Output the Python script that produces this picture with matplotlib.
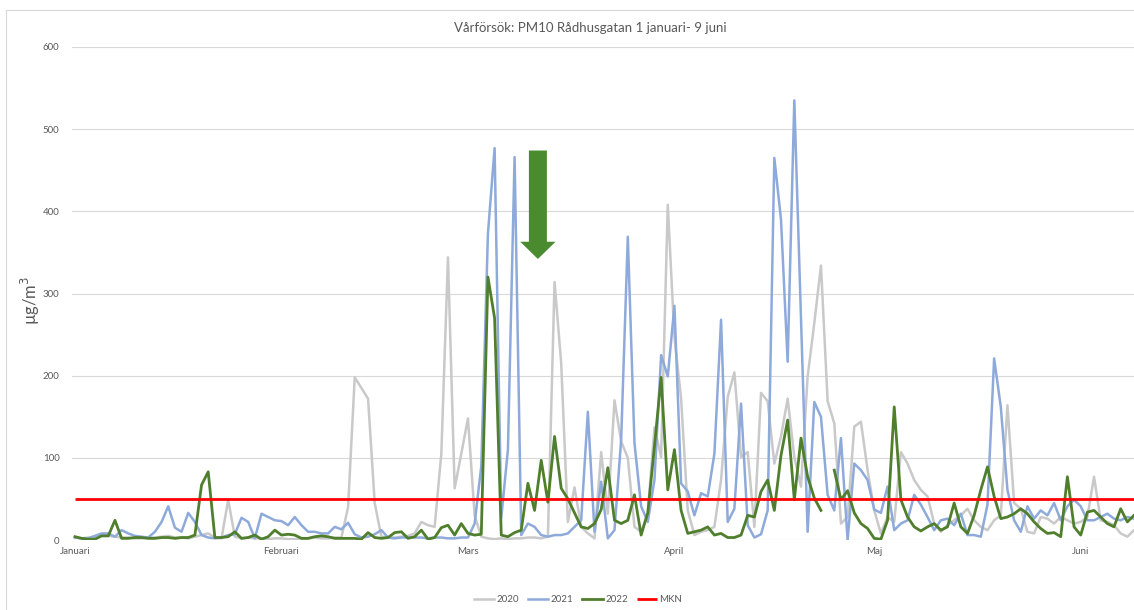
import numpy as np
import matplotlib.pyplot as plt
from matplotlib.patches import FancyArrow, Rectangle

plt.rcParams["font.family"] = ["Lato", "DejaVu Sans"]

title = "Vårförsök: PM10 Rådhusgatan 1 januari- 9 juni"
month_labels = ["Januari", "Februari", "Mars", "April", "Maj", "Juni"]
month_start_day = [0, 31, 59, 90, 120, 151]

# daily PM10 (µg/m3), 1 Jan - 9 Jun
pm10_2020 = [
    3, 2, 3, 4, 6, 5, 4, 3, 3, 2,
    2, 3, 3, 4, 5, 3, 3, 2, 4, 6,
    8, 3, 2, 49, 4, 2, 3, 2, 2, 1,
    2, 2, 1, 1, 2, 2, 3, 2, 2, 3,
    3, 40, 198, 185, 172, 45, 4, 3, 3, 4,
    5, 8, 22, 18, 16, 105, 344, 63, 105, 148,
    30, 4, 2, 1, 2, 1, 2, 2, 3, 3,
    2, 4, 314, 215, 22, 64, 16, 8, 2, 107,
    32, 170, 120, 100, 16, 10, 33, 137, 101, 408,
    247, 172, 36, 6, 10, 12, 16, 73, 174, 204,
    101, 107, 16, 179, 169, 93, 126, 172, 101, 65,
    199, 264, 334, 169, 142, 20, 28, 138, 144, 85,
    36, 8, 28, 22, 107, 93, 73, 61, 53, 20,
    10, 18, 24, 30, 38, 24, 16, 12, 24, 30,
    164, 45, 38, 10, 8, 28, 26, 20, 28, 24,
    20, 22, 28, 77, 24, 22, 18, 8, 4, 12,
]
pm10_2021 = [
    3, 2, 2, 5, 8, 8, 4, 12, 8, 5,
    4, 3, 10, 22, 41, 15, 10, 33, 22, 6,
    3, 2, 3, 6, 7, 27, 22, 2, 32, 28,
    24, 23, 18, 28, 18, 10, 10, 8, 8, 16,
    13, 21, 7, 3, 4, 7, 12, 3, 2, 3,
    3, 3, 3, 2, 3, 3, 2, 2, 3, 3,
    20, 90, 373, 477, 27, 110, 466, 6, 20, 16,
    6, 4, 6, 6, 8, 16, 24, 156, 10, 71,
    2, 12, 122, 369, 118, 41, 22, 73, 225, 199,
    285, 69, 59, 30, 57, 53, 105, 268, 22, 38,
    166, 18, 3, 7, 36, 465, 390, 217, 535, 270,
    10, 168, 150, 55, 36, 124, 0, 93, 85, 73,
    37, 33, 65, 12, 20, 24, 55, 43, 28, 12,
    24, 26, 18, 32, 6, 6, 4, 43, 221, 162,
    61, 24, 10, 41, 26, 36, 30, 45, 24, 41,
    49, 41, 24, 24, 28, 32, 26, 24, 28, 26,
]
pm10_2022 = [
    4, 2, 1, 1, 5, 5, 24, 2, 2, 3,
    3, 2, 2, 3, 3, 2, 3, 3, 6, 67,
    83, 3, 3, 4, 10, 2, 3, 6, 1, 4,
    12, 6, 7, 6, 2, 2, 4, 5, 4, 2,
    2, 2, 2, 1, 9, 3, 2, 3, 9, 10,
    2, 4, 12, 1, 3, 15, 18, 6, 20, 8,
    6, 7, 320, 270, 6, 4, 9, 12, 69, 36,
    97, 46, 126, 63, 50, 33, 16, 14, 20, 37,
    88, 24, 20, 24, 55, 6, 33, 114, 198, 61,
    110, 36, 8, 10, 12, 16, 6, 8, 3, 3,
    6, 30, 28, 59, 73, 36, 103, 146, 49, 124,
    77, 51, 36, np.nan, 85, 49, 60, 33, 20, 14,
    2, 1, 24, 162, 49, 28, 16, 11, 16, 20,
    12, 16, 45, 16, 8, 30, 61, 89, 53, 26,
    28, 32, 38, 32, 22, 14, 8, 9, 4, 77,
    16, 6, 34, 36, 28, 20, 16, 38, 22, 30,
]
mkn = 50

days = np.arange(len(pm10_2020))

W, H = 1134, 610
fig = plt.figure(figsize=(W / 100, H / 100), dpi=100)
ax = fig.add_axes([72 / W, 1 - 540 / H, 1 - 72 / W, (540 - 47) / H])

text_col = "#595959"
ax.plot(days, pm10_2020, color="#c9c9c9", lw=1.8, label="2020", zorder=2)
ax.plot(days, pm10_2021, color="#8eaadb", lw=1.8, label="2021", zorder=3)
ax.plot(days, pm10_2022, color="#4f7f2c", lw=2.0, label="2022", zorder=4)
ax.hlines(mkn, days[0], days[-1], color="#ff0000", lw=2.0, label="MKN", zorder=5)

ax.add_patch(FancyArrow(69.5, 474, 0, -132, width=2.7, head_width=5.3,
                        head_length=21, length_includes_head=True,
                        color="#4b8b2f", lw=0, zorder=6))

ax.set_xlim(-0.45, 159.0)
ax.set_ylim(0, 600)
ax.set_yticks(range(0, 601, 100))
ax.set_xticks(month_start_day)
ax.set_xticklabels(month_labels)
ax.grid(axis="y", color="#d9d9d9", lw=0.8)
ax.set_axisbelow(True)
for s in ax.spines.values():
    s.set_visible(False)
ax.tick_params(length=0, labelsize=7, colors=text_col)
ax.tick_params(axis="y", pad=9)
ax.tick_params(axis="x", pad=5)

fig.text(30 / W, 1 - 300 / H, "µg/m$^3$", rotation=90, ha="center", va="center",
         fontsize=12, color=text_col)
fig.text(590 / W, 1 - 28 / H, title, ha="center", va="center", fontsize=9.5,
         color=text_col)

ax.legend(loc="center", bbox_to_anchor=(578 / W, 1 - 600 / H),
          bbox_transform=fig.transFigure, ncol=4, frameon=False, fontsize=7,
          handlelength=2.1, handletextpad=0.25, columnspacing=0.9,
          labelcolor=text_col)

fig.add_artist(Rectangle((6 / W, -0.01), 1.02, 1 - 10 / H + 0.01,
                         transform=fig.transFigure, fill=False,
                         edgecolor="#d9d9d9", lw=0.8))

fig.savefig("out.png", dpi=100)
